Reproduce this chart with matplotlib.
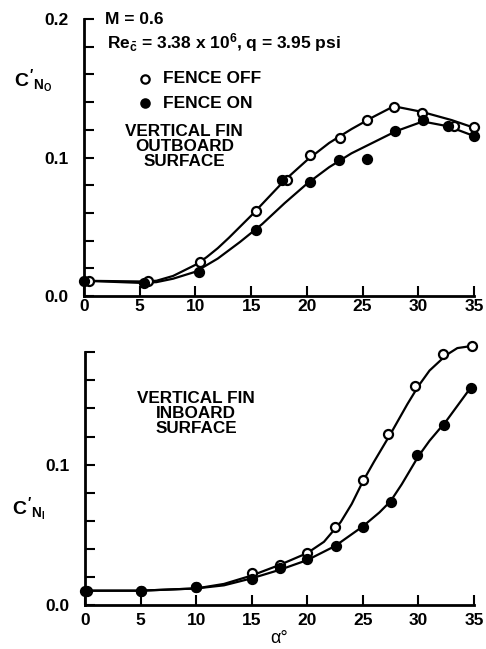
import matplotlib
matplotlib.use("Agg")
import matplotlib.pyplot as plt

plt.rcParams["font.family"] = ["Liberation Sans", "DejaVu Sans"]
plt.rcParams["font.weight"] = "bold"
plt.rcParams["mathtext.fontset"] = "custom"
plt.rcParams["mathtext.rm"] = "Liberation Sans:bold"
plt.rcParams["mathtext.it"] = "Liberation Sans:bold"
plt.rcParams["mathtext.bf"] = "Liberation Sans:bold"

# ---- outboard surface (top) ----
out_off_alpha = [0.45, 5.7, 10.4, 15.4, 18.2, 20.3, 23.0, 25.4, 27.8, 30.3, 33.2, 35.0]
out_off_cn    = [0.011, 0.0108, 0.0243, 0.0616, 0.0838, 0.1018, 0.114, 0.127, 0.1367, 0.1324, 0.1227, 0.1223]
out_on_alpha  = [0.0, 5.4, 10.3, 15.4, 17.8, 20.3, 22.9, 25.4, 27.9, 30.4, 32.7, 35.0]
out_on_cn     = [0.011, 0.0091, 0.0173, 0.0477, 0.0838, 0.0826, 0.0982, 0.0989, 0.119, 0.127, 0.1227, 0.1155]

# faired curves
out_off_fair_a = [0, 5, 6.5, 8, 10, 11, 12, 13, 14, 15, 16, 18, 20, 22, 24, 26, 27.8, 30.3, 33, 35]
out_off_fair_c = [0.011, 0.0105, 0.011, 0.0145, 0.0225, 0.028, 0.0345, 0.042, 0.050, 0.058, 0.0665, 0.0835, 0.098, 0.1105, 0.1205, 0.1295, 0.137, 0.133, 0.127, 0.1215]
out_on_fair_a  = [0, 5, 6.5, 8, 10, 12, 14, 16, 18, 20, 22, 24, 26, 28, 30.4, 32.7, 35]
out_on_fair_c  = [0.011, 0.0095, 0.010, 0.0125, 0.0175, 0.027, 0.039, 0.052, 0.067, 0.081, 0.093, 0.103, 0.111, 0.119, 0.126, 0.1225, 0.1155]

# ---- inboard surface (bottom) ----
in_off_alpha = [0.2, 5.0, 10.0, 15.0, 17.5, 20.0, 22.5, 25.0, 27.3, 29.7, 32.2, 34.8]
in_off_cn    = [0.0102, 0.0102, 0.0126, 0.0226, 0.0286, 0.0369, 0.0555, 0.0893, 0.122, 0.156, 0.1786, 0.1845]
in_on_alpha  = [0.0, 5.0, 10.0, 15.0, 17.5, 20.0, 22.6, 25.0, 27.5, 29.9, 32.3, 34.7]
in_on_cn     = [0.0102, 0.0102, 0.0126, 0.0183, 0.0262, 0.0326, 0.0417, 0.0555, 0.0731, 0.107, 0.1279, 0.1548]

in_off_fair_a = [0, 5, 10, 12.5, 15, 17.5, 20, 21.5, 23, 24, 25, 26, 27.5, 29, 30, 31, 32.5, 33.5, 34.8]
in_off_fair_c = [0.0102, 0.0102, 0.0118, 0.015, 0.021, 0.0285, 0.037, 0.045, 0.059, 0.072, 0.088, 0.102, 0.122, 0.143, 0.156, 0.167, 0.178, 0.183, 0.1845]
in_on_fair_a  = [0, 5, 10, 12.5, 15, 17.5, 20, 22.5, 25, 26.5, 27.5, 28.5, 30, 31, 32.5, 34.7]
in_on_fair_c  = [0.0102, 0.0102, 0.0118, 0.014, 0.019, 0.025, 0.032, 0.042, 0.056, 0.066, 0.074, 0.086, 0.106, 0.117, 0.131, 0.1548]

x_ticks = [0, 5, 10, 15, 20, 25, 30, 35]
top_yticks = [i * 0.02 for i in range(11)]
top_ylabels = ["0.0", "", "", "", "", "0.1", "", "", "", "", "0.2"]
bot_yticks = [i * 0.02 for i in range(10)]
bot_ylabels = ["0.0", "", "", "", "", "0.1", "", "", "", ""]

W, H = 486, 649
fig = plt.figure(figsize=(W / 100, H / 100), dpi=100)

def frame(ax, ytop, yticks, ylabels):
    ax.set_xlim(0, 35)
    ax.set_ylim(0, ytop)
    for s in ["top", "right"]:
        ax.spines[s].set_visible(False)
    for s in ["left", "bottom"]:
        ax.spines[s].set_linewidth(2)
    ax.set_xticks(x_ticks)
    ax.set_yticks(yticks)
    ax.set_yticklabels(ylabels)
    ax.tick_params(direction="in", length=7, width=1.5, labelsize=12.5)

def draw(ax, fa, fc, a, c, filled):
    ax.plot(fa, fc, color="black", lw=1.6, clip_on=False, zorder=2)
    ax.plot(a, c, "o", ms=6.5, mec="black", mew=1.6,
            mfc="black" if filled else "white", clip_on=False, zorder=3)

# top panel
ax1 = fig.add_axes([84 / W, 1 - 296 / H, 390 / W, 277 / H])
frame(ax1, 0.2, top_yticks, top_ylabels)
ax1.tick_params(axis="x", pad=2)
ax1.tick_params(axis="y", pad=11)
draw(ax1, out_off_fair_a, out_off_fair_c, out_off_alpha, out_off_cn, False)
draw(ax1, out_on_fair_a, out_on_fair_c, out_on_alpha, out_on_cn, True)

ax1.text(1.9, 0.2, "M = 0.6", fontsize=12.5, va="center", ha="left")
ax1.text(2.1, 0.1827, r"Re$_{\bar{c}}$ = 3.38 x 10$^6$, q = 3.95 psi", fontsize=12.5, va="center", ha="left")
ax1.plot([5.5], [0.1567], "o", ms=6, mfc="white", mec="black", mew=1.6)
ax1.text(7.1, 0.1567, "FENCE OFF", fontsize=12.5, va="center", ha="left")
ax1.plot([5.5], [0.139], "o", ms=6, mfc="black", mec="black", mew=1.6)
ax1.text(7.1, 0.139, "FENCE ON", fontsize=12.5, va="center", ha="left")
ax1.text(9.0, 0.108, "VERTICAL FIN\nOUTBOARD\nSURFACE", fontsize=12.3, va="center", ha="center",
         linespacing=1.0)
fig.text(14 / W, 1 - 80 / H, r"$C'_{N_O}$", fontsize=14, ha="left", va="center")

# bottom panel
ax2 = fig.add_axes([85 / W, 1 - 605 / H, 389 / W, (605 - 352.3) / H])
frame(ax2, 0.18, bot_yticks, bot_ylabels)
ax2.tick_params(axis="x", pad=6)
ax2.tick_params(axis="y", pad=11)
draw(ax2, in_off_fair_a, in_off_fair_c, in_off_alpha, in_off_cn, False)
draw(ax2, in_on_fair_a, in_on_fair_c, in_on_alpha, in_on_cn, True)
ax2.text(10.0, 0.1364, "VERTICAL FIN\nINBOARD\nSURFACE", fontsize=12.3, va="center", ha="center",
         linespacing=1.0)
ax2.set_xlabel("α°", fontsize=13, labelpad=1)
fig.text(12 / W, 1 - 508 / H, r"$C'_{N_I}$", fontsize=14, ha="left", va="center")

fig.savefig("out.png", dpi=100)
